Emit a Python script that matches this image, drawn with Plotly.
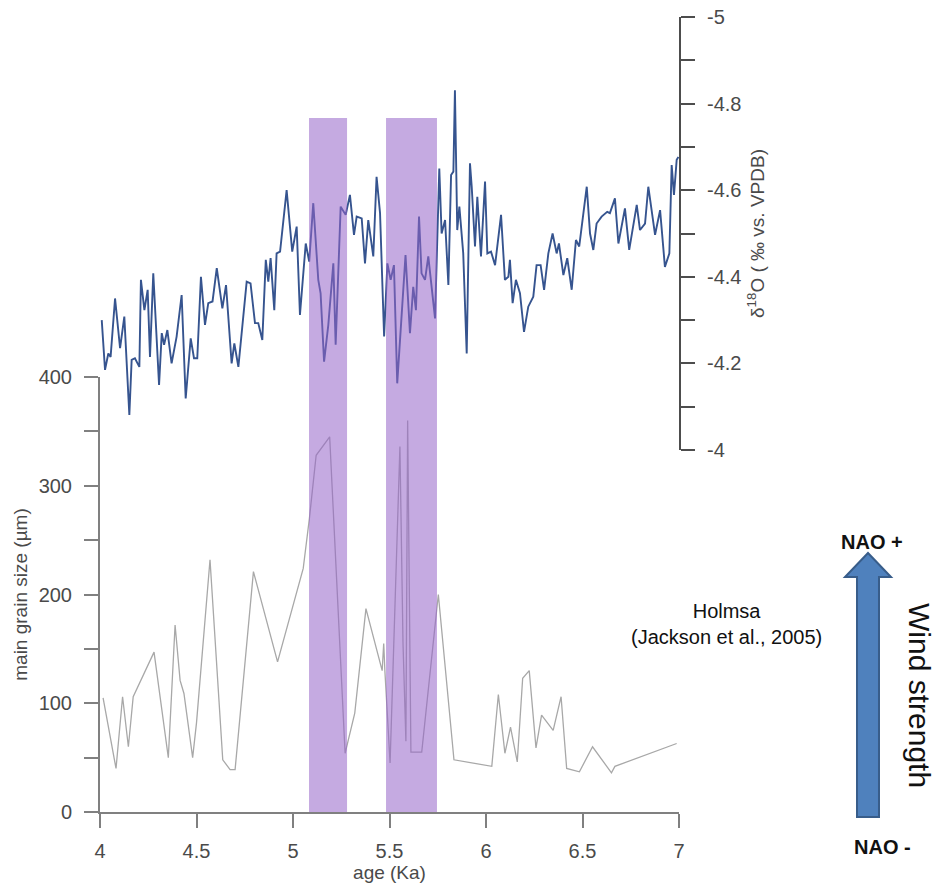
import plotly.graph_objects as go

# ---------------- data ----------------
# grain size record (Holmsa, Jackson et al., 2005)
grain_age = [4.016, 4.083, 4.117, 4.147, 4.172, 4.28, 4.354, 4.389, 4.415, 4.435, 4.48, 4.50,
             4.57, 4.636, 4.674, 4.70, 4.795, 4.92, 5.053, 5.085, 5.12, 5.19, 5.27, 5.32, 5.378,
             5.462, 5.470, 5.476, 5.503, 5.554, 5.57, 5.585, 5.594, 5.611, 5.667, 5.753, 5.834,
             6.03, 6.064, 6.098, 6.127, 6.162, 6.19, 6.224, 6.259, 6.288, 6.348, 6.389, 6.418,
             6.484, 6.552, 6.65, 6.668, 6.988]
grain_size = [105, 40, 106, 60, 106, 147, 50, 172, 121, 109, 50, 82,
              232, 48, 39, 39, 221, 138, 224, 270, 328, 345, 54, 91, 187,
              130, 155, 130, 45, 336, 155, 65, 360, 55, 55, 200, 48,
              42, 108, 54, 78, 46, 123, 130, 59, 89, 75, 106, 40,
              37, 60, 36, 42, 63]

# d18O record
d18o_age = [4.009, 4.026, 4.043, 4.055, 4.078, 4.104, 4.126, 4.152, 4.164, 4.181, 4.204, 4.212,
            4.230, 4.247, 4.259, 4.276, 4.306, 4.320, 4.332, 4.349, 4.371, 4.397, 4.423, 4.444,
            4.470, 4.487, 4.504, 4.523, 4.544, 4.561, 4.583, 4.605, 4.634, 4.653, 4.682, 4.696,
            4.717, 4.760, 4.780, 4.803, 4.820, 4.841, 4.859, 4.872, 4.884, 4.903, 4.915, 4.933,
            4.967, 4.996, 5.019, 5.036, 5.066, 5.084, 5.105, 5.131, 5.143, 5.161, 5.183, 5.209,
            5.221, 5.247, 5.273, 5.295, 5.316, 5.330, 5.356, 5.373, 5.390, 5.416, 5.433, 5.451,
            5.472, 5.489, 5.506, 5.523, 5.540, 5.563, 5.583, 5.606, 5.623, 5.637, 5.653, 5.666,
            5.684, 5.701, 5.736, 5.758, 5.770, 5.788, 5.805, 5.819, 5.831, 5.839, 5.851, 5.862,
            5.882, 5.900, 5.917, 5.926, 5.943, 5.955, 5.974, 5.995, 6.007, 6.026, 6.047, 6.078,
            6.098, 6.116, 6.124, 6.138, 6.155, 6.176, 6.197, 6.219, 6.245, 6.262, 6.283, 6.301,
            6.323, 6.345, 6.366, 6.378, 6.401, 6.421, 6.444, 6.466, 6.483, 6.522, 6.539, 6.556,
            6.573, 6.599, 6.628, 6.642, 6.668, 6.686, 6.720, 6.742, 6.781, 6.798, 6.824, 6.841,
            6.876, 6.902, 6.927, 6.950, 6.962, 6.974, 6.988, 6.997]
d18o_val = [-4.300, -4.185, -4.223, -4.215, -4.350, -4.235, -4.308, -4.081, -4.208, -4.212, -4.192, -4.393,
            -4.323, -4.370, -4.215, -4.408, -4.150, -4.270, -4.243, -4.277, -4.200, -4.262, -4.358, -4.119,
            -4.258, -4.212, -4.212, -4.400, -4.289, -4.339, -4.343, -4.420, -4.327, -4.381, -4.200, -4.246,
            -4.192, -4.389, -4.385, -4.293, -4.293, -4.254, -4.439, -4.389, -4.443, -4.323, -4.454, -4.458,
            -4.600, -4.458, -4.516, -4.312, -4.477, -4.435, -4.570, -4.393, -4.362, -4.204, -4.289, -4.431,
            -4.243, -4.562, -4.543, -4.589, -4.497, -4.539, -4.535, -4.431, -4.531, -4.447, -4.631, -4.547,
            -4.262, -4.431, -4.393, -4.427, -4.154, -4.323, -4.450, -4.270, -4.377, -4.323, -4.539, -4.408,
            -4.393, -4.447, -4.304, -4.650, -4.500, -4.531, -4.381, -4.635, -4.643, -4.831, -4.508, -4.562,
            -4.454, -4.223, -4.662, -4.608, -4.470, -4.585, -4.447, -4.620, -4.454, -4.458, -4.427, -4.543,
            -4.393, -4.400, -4.439, -4.339, -4.393, -4.362, -4.273, -4.331, -4.354, -4.427, -4.427, -4.370,
            -4.454, -4.500, -4.454, -4.477, -4.404, -4.443, -4.370, -4.485, -4.470, -4.608, -4.500, -4.462,
            -4.523, -4.539, -4.550, -4.547, -4.581, -4.477, -4.558, -4.462, -4.566, -4.508, -4.523, -4.608,
            -4.497, -4.554, -4.423, -4.454, -4.658, -4.589, -4.670, -4.677]

# highlighted intervals (ka)
band_start = [5.083, 5.482]
band_end = [5.280, 5.746]

# ticks
age_ticks = [4, 4.5, 5, 5.5, 6, 6.5, 7]
age_ticktext = ["4", "4.5", "5", "5.5", "6", "6.5", "7"]
grain_ticks = [0, 100, 200, 300, 400]
grain_ticktext = ["0", "100", "200", "300", "400"]
grain_minor = [50, 150, 250, 350]
d18o_ticks = [-5, -4.8, -4.6, -4.4, -4.2, -4]
d18o_ticktext = ["-5", "-4.8", "-4.6", "-4.4", "-4.2", "-4"]
d18o_minor = [-4.9, -4.7, -4.5, -4.3, -4.1]

# ---------------- figure ----------------
W, H = 936, 891
FONT = "Arial, Liberation Sans, sans-serif"
TICKCOL = "#4a4a4a"


def px(x):
    return x / W


def py(y):
    return 1 - y / H


fig = go.Figure()
fig.add_trace(go.Scatter(x=grain_age, y=grain_size, mode="lines",
                         line=dict(color="#a8a8a8", width=1.3),
                         xaxis="x", yaxis="y", showlegend=False))
fig.add_trace(go.Scatter(x=d18o_age, y=d18o_val, mode="lines",
                         line=dict(color="#36548f", width=1.9),
                         xaxis="x", yaxis="y2", showlegend=False))

shapes = []
for s, e in zip(band_start, band_end):
    shapes.append(dict(type="rect", xref="x", yref="paper", x0=s, x1=e,
                       y0=py(812), y1=py(118), layer="above",
                       fillcolor="rgba(150,100,200,0.55)", line=dict(width=0)))

# wind-strength arrow
pts = [(857, 817), (857, 577), (845, 577), (868, 553), (891, 577), (879, 577), (879, 817)]
path = "M " + " L ".join(f"{px(a):.5f},{py(b):.5f}" for a, b in pts) + " Z"
shapes.append(dict(type="path", xref="paper", yref="paper", path=path,
                   fillcolor="#4f81bd", line=dict(color="#385d8a", width=2)))

axis_common = dict(showgrid=False, zeroline=False, showline=True, ticks="outside",
                   ticklen=14, tickwidth=2, automargin=False,
                   tickfont=dict(family=FONT, size=20, color=TICKCOL))
TITLEFONT = dict(family=FONT, size=19, color=TICKCOL)

fig.update_layout(
    width=W, height=H, autosize=False,
    margin=dict(l=0, r=0, t=0, b=0, pad=0),
    paper_bgcolor="white", plot_bgcolor="rgba(0,0,0,0)",
    font=dict(family=FONT, color=TICKCOL),
    xaxis=dict(domain=[px(100), px(679)], range=[4, 7], anchor="y",
               tickmode="array", tickvals=age_ticks, ticktext=age_ticktext,
               ticklabelstandoff=6,
               linecolor="#808080", linewidth=2, tickcolor="#808080",
               title=dict(text="age (Ka)", font=TITLEFONT, standoff=3),
               **axis_common),
    yaxis=dict(domain=[py(812), py(377)], range=[0, 400], anchor="x",
               tickmode="array", tickvals=grain_ticks, ticktext=grain_ticktext,
               minor=dict(tickmode="array", tickvals=grain_minor, ticks="outside",
                          ticklen=14, tickwidth=2, tickcolor="#808080"),
               ticklabelstandoff=8,
               linecolor="#808080", linewidth=2, tickcolor="#808080",
               title=dict(text="main grain size (µm)", font=TITLEFONT, standoff=6),
               **axis_common),
    yaxis2=dict(domain=[py(450), py(17)], range=[-4, -5], anchor="x", side="right",
                tickmode="array", tickvals=d18o_ticks, ticktext=d18o_ticktext,
                minor=dict(tickmode="array", tickvals=d18o_minor, ticks="outside",
                           ticklen=14, tickwidth=2, tickcolor="#4d4d4d"),
                ticklabelstandoff=8,
                linecolor="#4d4d4d", linewidth=2, tickcolor="#4d4d4d",
                title=dict(text="δ<sup>18</sup>O ( ‰ vs. VPDB)", font=TITLEFONT, standoff=10),
                **axis_common),
    shapes=shapes,
    annotations=[
        dict(text="Holmsa<br>(Jackson et al., 2005)", x=px(726), y=py(624), xref="paper", yref="paper",
             showarrow=False, font=dict(family=FONT, size=20, color="#111111"),
             xanchor="center", yanchor="middle", align="center"),
        dict(text="<b>NAO +</b>", x=px(872), y=py(542), xref="paper", yref="paper",
             showarrow=False, font=dict(family=FONT, size=20, color="#111111"),
             xanchor="center", yanchor="middle"),
        dict(text="<b>NAO -</b>", x=px(882), y=py(847), xref="paper", yref="paper",
             showarrow=False, font=dict(family=FONT, size=20, color="#111111"),
             xanchor="center", yanchor="middle"),
        dict(text="Wind strength", x=px(920), y=py(695), xref="paper", yref="paper",
             showarrow=False, textangle=90, font=dict(family=FONT, size=30, color="#111111"),
             xanchor="center", yanchor="middle"),
    ],
)

fig.write_html("out.html", config={"displayModeBar": False},
               post_script="document.body.style.margin='0px';")
